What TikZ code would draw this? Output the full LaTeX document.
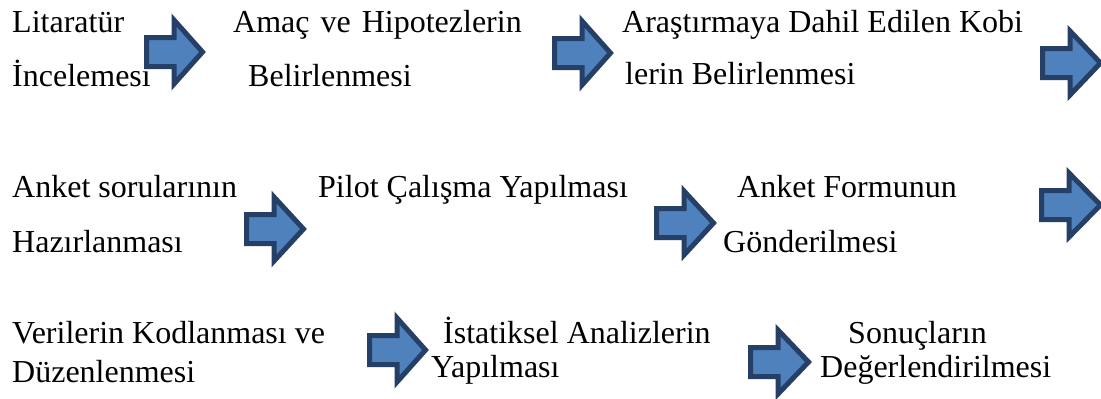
\documentclass[tikz,border=0pt]{standalone}
\usepackage{fontspec}
\setmainfont{Liberation Serif}
\definecolor{arrfill}{HTML}{4F81BD}
\definecolor{arrline}{HTML}{263F66}
\tikzset{
  lbl/.style={anchor=base west, inner sep=0pt, font=\fontsize{32}{38}\selectfont},
  blockarrow/.style={fill=arrfill, draw=arrline, line width=5pt, line join=miter}
}
% \barrow{name}{x0}{x1}{cy}
\newcommand{\barrow}[4]{%
  \coordinate (#1) at (#2,#4);
  \draw[blockarrow] (#2+2.5,#4-14.5) -- (#2+30,#4-14.5) -- (#2+30,#4-32) -- (#3-3.5,#4) -- (#2+30,#4+32) -- (#2+30,#4+14.5) -- (#2+2.5,#4+14.5) -- cycle;}
\begin{document}
\begin{tikzpicture}[x=1pt,y=-1pt]
\useasboundingbox (0,0) rectangle (1101,399);
\clip (0,0) rectangle (1101,399);
\fill[white] (0,0) rectangle (1101,399);
% row 1
\node[lbl] (t1a) at (12,32) {Litaratür};
\node[lbl] (t1b) at (12,86) {İncelemesi};
\node[lbl] (t2a) at (233,32) {Amaç\hspace{3pt} ve\hspace{3pt} Hipotezlerin};
\node[lbl] (t2b) at (248,86) {Belirlenmesi};
\node[lbl] (t3a) at (622,32) {Araştırmaya Dahil Edilen Kobi};
\node[lbl] (t3b) at (625,84) {lerin Belirlenmesi};
% row 2
\node[lbl] (t4a) at (12,197) {Anket sorularının};
\node[lbl] (t4b) at (12,252) {Hazırlanması};
\node[lbl] (t5a) at (318,197) {Pilot Çalışma Yapılması};
\node[lbl] (t6a) at (737,197) {Anket Formunun};
\node[lbl] (t6b) at (723,252) {Gönderilmesi};
% row 3
\node[lbl] (t7a) at (12,343) {Verilerin Kodlanması ve};
\node[lbl] (t7b) at (12,382) {Düzenlenmesi};
\node[lbl] (t8a) at (443,343) {İstatiksel Analizlerin};
\node[lbl] (t8b) at (431,377) {Yapılması};
\node[lbl] (t9a) at (848,343) {Sonuçların};
\node[lbl] (t9b) at (820,377) {Değerlendirilmesi};
% arrows
\barrow{a1}{144}{206}{52}
\barrow{a2}{552}{614}{53}
\barrow{a3}{1040}{1104}{63}
\barrow{b1}{244}{307}{229}
\barrow{b2}{654}{717}{223}
\barrow{b3}{1039}{1104}{205}
\barrow{c1}{367}{429}{350}
\barrow{c2}{748}{812}{362}
\end{tikzpicture}
\end{document}
